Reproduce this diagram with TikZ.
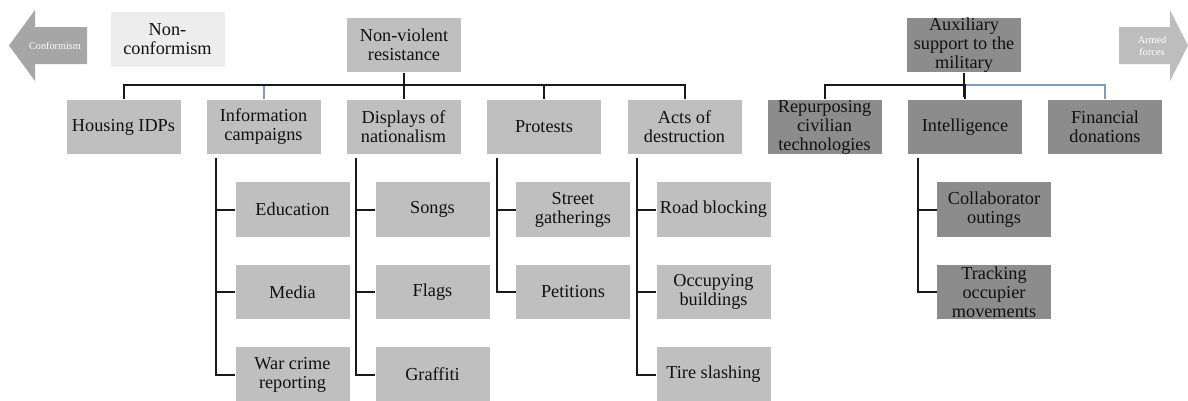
\documentclass[tikz,border=0pt]{standalone}
\usepackage{fontspec}
\setmainfont{Liberation Serif}
\usetikzlibrary{calc}
\definecolor{boxgray}{HTML}{BFBFBF}
\definecolor{darkgraybox}{HTML}{8C8C8C}
\definecolor{lightgraybox}{HTML}{EDEDED}
\definecolor{arrowL}{HTML}{A6A6A6}
\definecolor{arrowR}{HTML}{BDBDBD}
\definecolor{bluel}{HTML}{7F9DBA}
\definecolor{txt}{HTML}{111111}
\begin{document}
\begin{tikzpicture}[x=0.75pt,y=-0.75pt,
 box/.style={fill=boxgray, text=txt, minimum width=85.5pt, minimum height=41pt, inner sep=0pt, align=center, font=\fontsize{13.7}{14.3}\selectfont},
 dbox/.style={box, fill=darkgraybox},
 lbox/.style={box, fill=lightgraybox},
 conn/.style={line width=1.5pt, draw=black!90},
 bconn/.style={conn, draw=bluel},
 arrtxt/.style={text=white, font=\fontsize{7.7}{9}\selectfont, align=center, inner sep=0pt}]
\clip (0,0) rectangle (1188,400);
\fill[white] (0,0) rectangle (1188,400);
% side arrows
\fill[arrowL] (9,45.5) -- (35,10) -- (35,27) -- (87,27) -- (87,64) -- (35,64) -- (35,81) -- cycle;
\node[arrtxt] (conf) at (55,45.5) {Conformism};
\fill[arrowR] (1188,45.5) -- (1170,10) -- (1170,27) -- (1119,27) -- (1119,64) -- (1170,64) -- (1170,81) -- cycle;
\node[arrtxt] (armed) at (1152,46) {Armed\\forces};
% top level
\node[lbox] (noncon) at (167.5,39.5) {Non-\\conformism};
\node[box] (nvr) at (404,45) {Non-violent\\resistance};
\node[dbox] (aux) at (964,45) {Auxiliary\\support to the\\military};
% second level
\node[box] (hous) at (123.5,127) {Housing IDPs};
\node[box] (info) at (263.5,127) {Information\\campaigns};
\node[box] (disp) at (403.5,127) {Displays of\\nationalism};
\node[box] (prot) at (544,127) {Protests};
\node[box] (acts) at (684.5,127) {Acts of\\destruction};
\node[dbox] (rep) at (824.5,127) {Repurposing\\civilian\\technologies};
\node[dbox] (intel) at (965,127) {Intelligence};
\node[dbox] (fin) at (1105,127) {Financial\\donations};
% third level
\node[box] (edu) at (292.5,209.5) {Education};
\node[box] (med) at (292.5,292) {Media};
\node[box] (war) at (292.5,374.5) {War crime\\reporting};
\node[box] (songs) at (432.5,209.5) {Songs};
\node[box] (flags) at (432.5,292) {Flags};
\node[box] (graf) at (432.5,374.5) {Graffiti};
\node[box] (street) at (573,209.5) {Street\\gatherings};
\node[box] (pet) at (573,292) {Petitions};
\node[box] (road) at (713.5,209.5) {Road blocking};
\node[box] (occ) at (713.5,292) {Occupying\\buildings};
\node[box] (tire) at (713.5,374.5) {Tire slashing};
\node[dbox] (coll) at (994,209.5) {Collaborator\\outings};
\node[dbox] (track) at (994,292) {Tracking\\occupier\\movements};
% connectors, left tree
\draw[conn] (nvr.south) -- ++(0,24);
\draw[bconn] (info.north) -- ++(0,-14);
\draw[conn] (disp.north) -- ++(0,-14);
\draw[conn] (prot.north) -- ++(0,-14);
\draw[conn] (hous.north) -- ++(0,-14) -| (acts.north);
% connectors, right tree
\draw[conn] (aux.south) -- ++(0,24);
\draw[bconn] (intel.north) ++(0,-14) -| (fin.north);
\draw[conn] (rep.north) -- ++(0,-14) -| (intel.north);
% child branches
\coordinate (vinfo) at ($(info.south west)+(10,3)$);
\coordinate (vdisp) at ($(disp.south west)+(10,3)$);
\coordinate (vprot) at ($(prot.south west)+(10,3)$);
\coordinate (vacts) at ($(acts.south west)+(10,3)$);
\coordinate (vintel) at ($(intel.south west)+(10,3)$);
\draw[conn] (vinfo) |- (war.west);
\draw[conn] (vinfo |- edu.west) -- (edu.west);
\draw[conn] (vinfo |- med.west) -- (med.west);
\draw[conn] (vdisp) |- (graf.west);
\draw[conn] (vdisp |- songs.west) -- (songs.west);
\draw[conn] (vdisp |- flags.west) -- (flags.west);
\draw[conn] (vprot) |- (pet.west);
\draw[conn] (vprot |- street.west) -- (street.west);
\draw[conn] (vacts) |- (tire.west);
\draw[conn] (vacts |- road.west) -- (road.west);
\draw[conn] (vacts |- occ.west) -- (occ.west);
\draw[conn] (vintel) |- (track.west);
\draw[conn] (vintel |- coll.west) -- (coll.west);
\end{tikzpicture}
\end{document}
